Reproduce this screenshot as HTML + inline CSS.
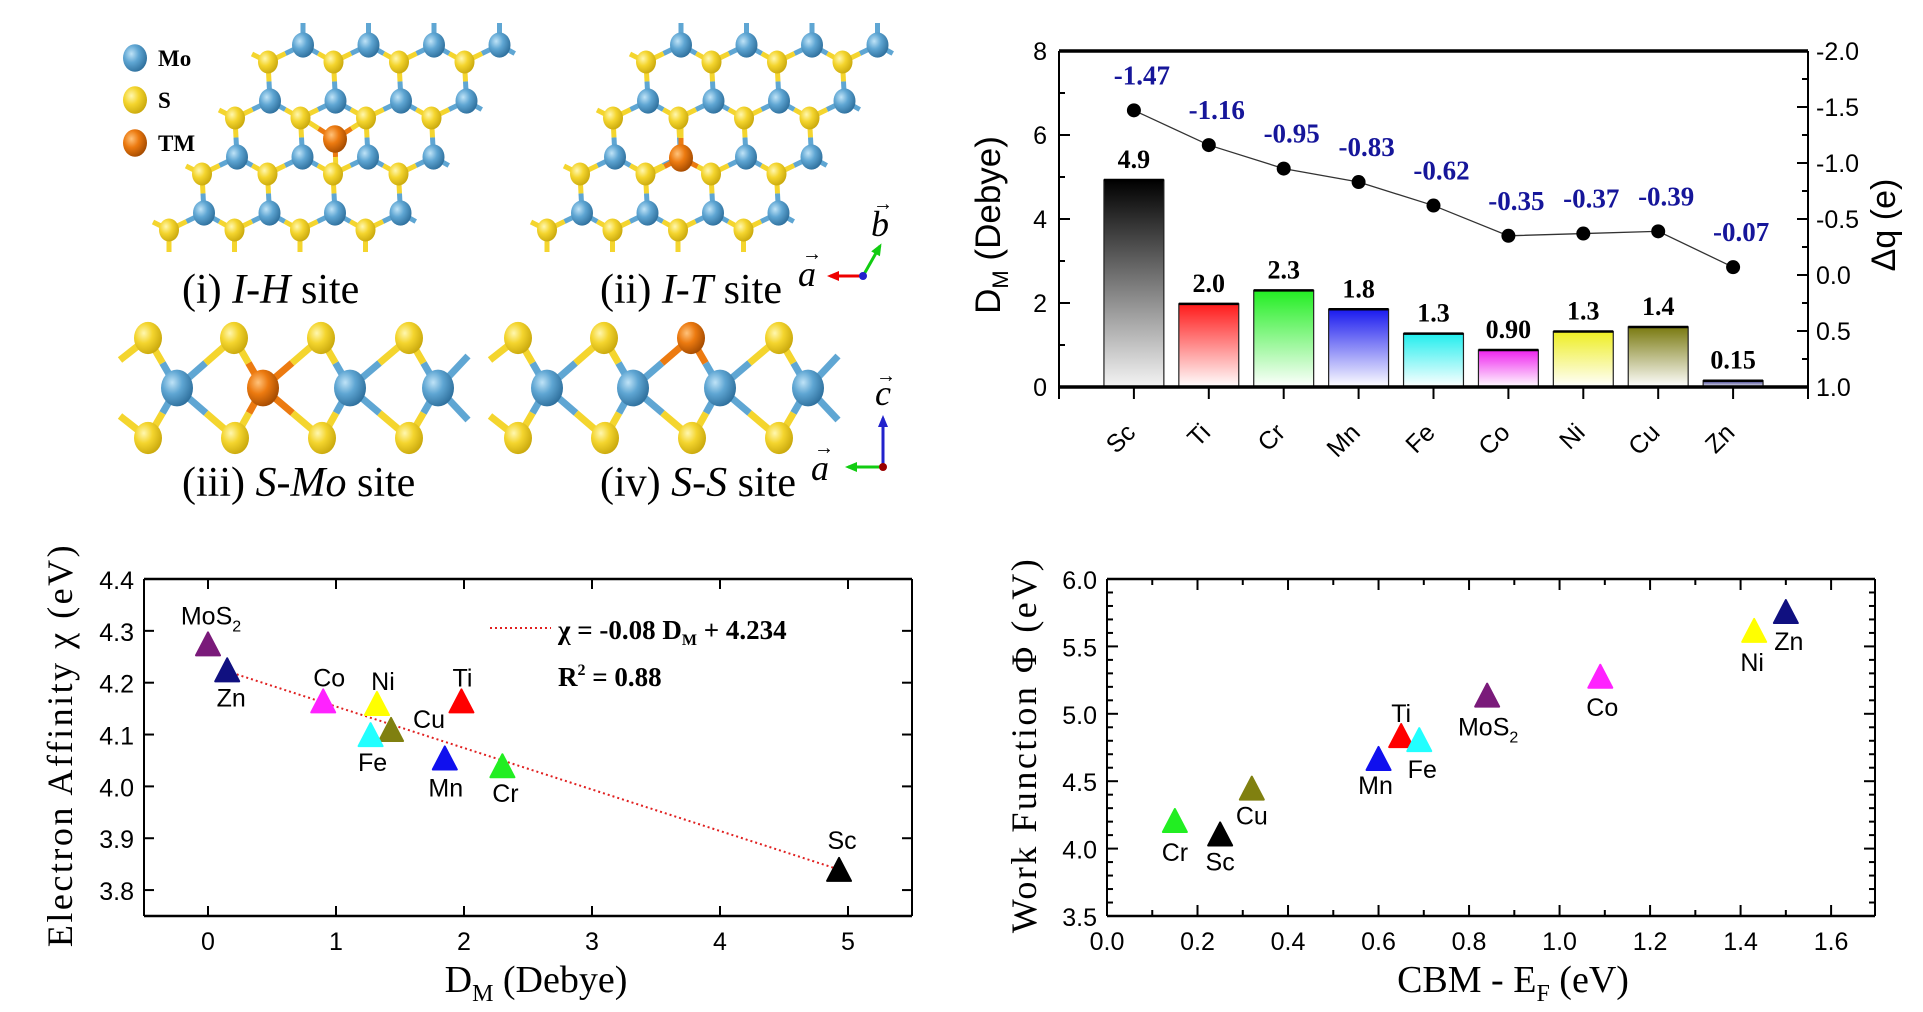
<!DOCTYPE html>
<html><head><meta charset="utf-8"><style>
html,body{margin:0;padding:0;background:#fff;}
svg{display:block;}
.tk{font-family:"Liberation Sans Narrow","Liberation Sans",sans-serif;font-size:25px;fill:#000;}
.tm{font-family:"Liberation Serif",serif;fill:#000;}
</style></head><body>
<svg id="fig" width="1923" height="1012" viewBox="0 0 1923 1012" xmlns="http://www.w3.org/2000/svg">
<defs>
<radialGradient id="gMo" cx="35%" cy="35%" r="70%"><stop offset="0" stop-color="#bfe3f7"/><stop offset="0.45" stop-color="#5fa6d3"/><stop offset="1" stop-color="#2e6f9c"/></radialGradient>
<radialGradient id="gS" cx="35%" cy="35%" r="70%"><stop offset="0" stop-color="#fff7b0"/><stop offset="0.45" stop-color="#f4d52e"/><stop offset="1" stop-color="#c9a80c"/></radialGradient>
<radialGradient id="gTM" cx="35%" cy="35%" r="70%"><stop offset="0" stop-color="#ffc27a"/><stop offset="0.45" stop-color="#ec7a10"/><stop offset="1" stop-color="#a34a00"/></radialGradient>
</defs>
<g id="structures"></g>
<g id="bar"></g>
<g id="ea"></g>
<g id="wf"></g>
</svg>
<script>
// ---------- data ----------
const barCategories = ["Sc","Ti","Cr","Mn","Fe","Co","Ni","Cu","Zn"];
const dipoleValues = [4.93,1.98,2.30,1.85,1.27,0.88,1.32,1.43,0.15];
const dipoleLabels = ["4.9","2.0","2.3","1.8","1.3","0.90","1.3","1.4","0.15"];
const chargeValues = [-1.47,-1.16,-0.95,-0.83,-0.62,-0.35,-0.37,-0.39,-0.07];
const chargeLabels = ["-1.47","-1.16","-0.95","-0.83","-0.62","-0.35","-0.37","-0.39","-0.07"];
const barColors = ["#000000","#ff1a1a","#22ee22","#1a1aee","#22eeee","#ee22ee","#eeee22","#7a7a10","#333388"];
const barLeftTicks = ["0","2","4","6","8"];
const barRightTicks = ["-2.0","-1.5","-1.0","-0.5","0.0","0.5","1.0"];

const eaNames = ["MoS2","Zn","Co","Ni","Ti","Cu","Fe","Mn","Cr","Sc"];
const eaDipole = [0,0.15,0.90,1.32,1.98,1.43,1.27,1.85,2.30,4.93];
const eaChi = [4.27,4.22,4.16,4.155,4.16,4.105,4.095,4.05,4.035,3.835];
const eaColors = ["#7a1a7a","#101080","#ff22ff","#ffff00","#ff0000","#808010","#22ffff","#1010ee","#22ee22","#000000"];
const eaXTicks = ["0","1","2","3","4","5"];
const eaYTicks = ["3.8","3.9","4.0","4.1","4.2","4.3","4.4"];
const fitSlope = -0.08, fitIntercept = 4.234;

const wfNames = ["Cr","Sc","Cu","Mn","Ti","Fe","MoS2","Co","Ni","Zn"];
const wfCbm = [0.15,0.25,0.32,0.60,0.65,0.69,0.84,1.09,1.43,1.50];
const wfPhi = [4.19,4.09,4.43,4.65,4.82,4.79,5.12,5.26,5.60,5.74];
const wfColors = ["#22ee22","#000000","#808010","#1010ee","#ff0000","#22ffff","#7a1a7a","#ff22ff","#ffff00","#101080"];
const wfXTicks = ["0.0","0.2","0.4","0.6","0.8","1.0","1.2","1.4","1.6"];
const wfYTicks = ["3.5","4.0","4.5","5.0","5.5","6.0"];

// ---------- helpers ----------
const NS="http://www.w3.org/2000/svg";
function mk(parent,tag,attrs,text){const e=document.createElementNS(NS,tag);for(const k in attrs)e.setAttribute(k,attrs[k]);if(text!==undefined)e.textContent=text;parent.appendChild(e);return e;}
function line(p,x1,y1,x2,y2,st,w,extra){const a={x1,y1,x2,y2,stroke:st,"stroke-width":w};if(extra)Object.assign(a,extra);return mk(p,"line",a);}

// ---------- structures ----------
const S=document.getElementById("structures");
function atom(cx,cy,r,type,name){const c=mk(S,"ellipse",{cx,cy,rx:r,ry:r*1.15,fill:"url(#g"+type+")"});

}
function bond(x1,y1,x2,y2,c1,c2,w){const mx=(x1+x2)/2,my=(y1+y2)/2;line(S,x1,y1,mx,my,c1,w,{"stroke-linecap":"butt"});line(S,mx,my,x2,y2,c2,w,{"stroke-linecap":"butt"});}
const cMo="#5fa6d3",cS="#f4d52e",cTM="#ec7a10";
function topView(off,tmType){
  const mo=(k,j)=>[303-33*k+65.5*j+off,45+56*k];
  const s=(k,j)=>[268-33*k+65.5*j+off,62+56*k];
  for(let k=0;k<4;k++)for(let j=0;j<4;j++){
    const m=mo(k,j),a=s(k,j),b=s(k,j+1);
    bond(m[0],m[1],a[0],a[1],cMo,cS,5);
    if(j<3)bond(m[0],m[1],b[0],b[1],cMo,cS,5);else bond(m[0],m[1],(m[0]+b[0])/2,(m[1]+b[1])/2,cMo,cMo,5);
    if(k<3){const n=mo(k+1,j);bond(a[0],a[1],n[0],n[1],cS,cMo,5);}else line(S,a[0],a[1],a[0],a[1]+22,cS,5);
    if(k===0)line(S,m[0],m[1],m[0],m[1]-22,cMo,5);
    if(j===0)line(S,a[0],a[1],a[0]-16,a[1]-8,cS,5);
  }
  let tm;
  if(tmType===0){tm=[335+off,139];[[302,118],[368,118],[336,175]].forEach(p=>bond(tm[0],tm[1],p[0]+off,p[1],cTM,cS,5));}
  else{tm=[681+off-378,158];[[681-378,118],[648-378,175],[714-378,175]].forEach(p=>bond(tm[0],tm[1],p[0]+off,p[1],cTM,cS,5));}
  for(let k=0;k<4;k++)for(let j=0;j<4;j++){const m=mo(k,j),a=s(k,j);
    atom(a[0],a[1],10,"S","s-atom");
    if(!(tmType===1&&k===2&&j===1))atom(m[0],m[1],11,"Mo","mo-atom");}
  atom(tm[0],tm[1],12,"TM","tm-atom");
}
topView(0,0);topView(378,1);
function sideView(off,tmPos){
  const st=[148,234,321,409].map(x=>x+off), mo=[177,263,350,438].map(x=>x+off), sb=[148,235,322,409].map(x=>x+off);
  const yT=338,yM=388,yB=438;
  line(S,st[0],yT,st[0]-28,yT+22,cS,7);line(S,sb[0],yB,sb[0]-28,yB-22,cS,7);
  for(let i=0;i<4;i++){
    const mt=(tmPos==="mo"&&i===1)?cTM:cMo;
    const ct=(tmPos==="s"&&i===2)?cTM:cS;
    bond(mo[i],yM,st[i],yT,mt,ct,7);bond(mo[i],yM,sb[i],yB,mt,cS,7);
    if(i<3){const ct2=(tmPos==="s"&&i+1===2)?cTM:cS;bond(mo[i],yM,st[i+1],yT,mt,ct2,7);bond(mo[i],yM,sb[i+1],yB,mt,cS,7);}
    else{line(S,mo[i],yM,mo[i]+30,yM-32,cMo,7);line(S,mo[i],yM,mo[i]+30,yM+32,cMo,7);}
  }
  for(let i=0;i<4;i++){
    atom(st[i],yT,14,(tmPos==="s"&&i===2)?"TM":"S","side-top-atom");
    atom(sb[i],yB,14,"S","side-bottom-atom");
    atom(mo[i],yM,16,(tmPos==="mo"&&i===1)?"TM":"Mo","side-metal-atom");
  }
}
sideView(0,"mo");sideView(370,"s");
// legend
[["Mo",58],["S",100],["TM",143]].forEach(([t,y])=>{atom(135,y,12,t,"legend-"+t.toLowerCase()+"-swatch");
 const tx=mk(S,"text",{x:158,y:y+8,class:"tm","font-size":23,"font-weight":"bold"},t);
 
 });
function caption(x,y,parts,name){const t=mk(S,"text",{x,y,class:"tm","font-size":42});
 
 
 parts.forEach(([s,it])=>mk(t,"tspan",it?{"font-style":"italic"}:{},s));}
caption(182,303,[["(i) ",0],["I-H",1],[" site",0]],"caption-i-h-site");
caption(600,303,[["(ii) ",0],["I-T",1],[" site",0]],"caption-i-t-site");
caption(182,496,[["(iii) ",0],["S-Mo",1],[" site",0]],"caption-s-mo-site");
caption(600,496,[["(iv) ",0],["S-S",1],[" site",0]],"caption-s-s-site");
function arrow(x1,y1,x2,y2,c){line(S,x1,y1,x2,y2,c,3);const a=Math.atan2(y2-y1,x2-x1),L=9,W=5;
 mk(S,"polygon",{points:`${x2+Math.cos(a)*3},${y2+Math.sin(a)*3} ${x2-L*Math.cos(a)+W*Math.sin(a)},${y2-L*Math.sin(a)-W*Math.cos(a)} ${x2-L*Math.cos(a)-W*Math.sin(a)},${y2-L*Math.sin(a)+W*Math.cos(a)}`,fill:c});}
arrow(863,276,830,276,"#e00");arrow(863,276,880,246,"#1c1");mk(S,"circle",{cx:863,cy:276,r:4,fill:"#22c"});
mk(S,"text",{x:798,y:286,class:"tm","font-size":36,"font-style":"italic"},"a");mk(S,"text",{x:802,y:260,class:"tm","font-size":20},"→");
mk(S,"text",{x:871,y:236,class:"tm","font-size":36,"font-style":"italic"},"b");mk(S,"text",{x:873,y:210,class:"tm","font-size":20},"→");
arrow(883,467,883,418,"#22c");arrow(883,467,848,467,"#1c1");mk(S,"circle",{cx:883,cy:467,r:4,fill:"#900"});
mk(S,"text",{x:875,y:405,class:"tm","font-size":36,"font-style":"italic"},"c");mk(S,"text",{x:876,y:382,class:"tm","font-size":20},"→");
mk(S,"text",{x:811,y:480,class:"tm","font-size":36,"font-style":"italic"},"a");mk(S,"text",{x:814,y:454,class:"tm","font-size":20},"→");

// ---------- bar chart ----------
(function(){
 const G=document.getElementById("bar");
 const L=1059,R=1808,T=51,B=387;
 const xs=i=>L+(i+1)/10*(R-L);
 const yL=v=>B-v/8*(B-T);
 const yR=v=>T+(v+2)/3*(B-T);
 const defs=document.querySelector("defs");
 barCategories.forEach((c,i)=>{
  const g=mk(defs,"linearGradient",{id:"bg"+i,x1:0,y1:0,x2:0,y2:1});
  mk(g,"stop",{offset:0,"stop-color":barColors[i]});mk(g,"stop",{offset:1,"stop-color":i===0?"#f4f4f4":"#ffffff","stop-opacity":1});
  const w=0.8/10*(R-L),x=xs(i)-w/2,y=yL(dipoleValues[i]);
  const r=mk(G,"rect",{x,y,width:w,height:B-y,fill:`url(#bg${i})`,stroke:"#222","stroke-width":1.2});
  
  
  line(G,x,y,x+w,y,"#000",2.5);
  const t=mk(G,"text",{x:xs(i),y:y-12,"text-anchor":"middle",class:"tm","font-size":26,"font-weight":"bold"},dipoleLabels[i]);
  
  
  const tk=mk(G,"text",{x:xs(i)+3,y:434,"text-anchor":"end",class:"tk","font-size":24,transform:`rotate(-45 ${xs(i)+3} 434)`},c);
  
  
  line(G,xs(i),B,xs(i),B+12,"#000",2);
 });
 line(G,L,B,L,B+12,"#000",2);line(G,R,B,R,B+12,"#000",2);
 let d="";chargeValues.forEach((v,i)=>{d+=(i?"L":"M")+xs(i)+","+yR(v);});
 const pl=mk(G,"path",{d,fill:"none",stroke:"#333","stroke-width":1.3});
 
 
 chargeValues.forEach((v,i)=>{
  const c=mk(G,"circle",{cx:xs(i),cy:yR(v),r:7,fill:"#000"});
  
  
  const t=mk(G,"text",{x:xs(i)+8,y:yR(v)-26,"text-anchor":"middle",class:"tm","font-size":27,"font-weight":"bold",style:"fill:#16169a"},chargeLabels[i]);
  
  
 });
 line(G,L,T,R,T,"#000",3.5);line(G,L,B,R,B,"#000",3.5);line(G,L,T,L,B,"#000",2);line(G,R,T,R,B,"#000",2);
 for(let v=0;v<=8;v++){const y=yL(v);line(G,L,y,L+(v%2?6:11),y,"#000",2);}
 barLeftTicks.forEach(s=>{const t=mk(G,"text",{x:L-12,y:yL(+s)+9,"text-anchor":"end",class:"tk","font-size":26},s);
  });
 for(let k=0;k<=12;k++){const v=-2+k*0.25,y=yR(v);line(G,R,y,R-(k%2?6:11),y,"#000",2);}
 barRightTicks.forEach(s=>{const t=mk(G,"text",{x:R+8,y:yR(+s)+9,class:"tk","font-size":26},s);
  });
 const yt=mk(G,"text",{x:0,y:0,"text-anchor":"middle",transform:"translate(1000 225) rotate(-90)",style:"font-family:'Liberation Sans',sans-serif;font-size:35px"});
 
 mk(yt,"tspan",{},"D");mk(yt,"tspan",{"font-size":22,dy:8},"M");mk(yt,"tspan",{dy:-8},"  (Debye)");
 const yt2=mk(G,"text",{x:0,y:0,"text-anchor":"middle",transform:"translate(1895 225) rotate(-90)",style:"font-family:'Liberation Sans','DejaVu Sans',sans-serif;font-size:34px"},"Δq (e)");
 
})();

function tri(G,cx,cy,col,name){const p=mk(G,"path",{d:`M${cx},${cy-14} L${cx+12},${cy+9} L${cx-12},${cy+9} Z`,fill:col,stroke:col,"stroke-width":2,"stroke-linejoin":"round"});
 }
function ptLabel(G,x,y,s){const t=mk(G,"text",{x,y:y+9,"text-anchor":"middle",class:"tk","font-size":25});
 
 if(s==="MoS2"){mk(t,"tspan",{},"MoS");mk(t,"tspan",{"font-size":16,dy:7},"2");}else t.textContent=s;}

// ---------- electron affinity ----------
(function(){
 const G=document.getElementById("ea");
 const L=144,R=912,T=579,B=916,x0=-0.5,x1=5.5,y0=3.75,y1=4.4;
 const X=v=>L+(v-x0)/(x1-x0)*(R-L), Y=v=>B-(v-y0)/(y1-y0)*(B-T);
 const off={MoS2:[3,-31],Zn:[4,25],Co:[6,-26],Ni:[6,-25],Ti:[1,-26],Cu:[38,-13],Fe:[2,25],Mn:[1,27],Cr:[3,25],Sc:[3,-32]};
 const xa=0.15,xb=4.93;
 const fl=mk(G,"line",{x1:X(xa),y1:Y(fitSlope*xa+fitIntercept),x2:X(xb),y2:Y(fitSlope*xb+fitIntercept),stroke:"#e02020","stroke-width":2,"stroke-dasharray":"2 3"});
 
 eaNames.forEach((n,i)=>{const x=X(eaDipole[i]),y=Y(eaChi[i]);tri(G,x,y,eaColors[i],'marker-'+n.toLowerCase());ptLabel(G,x+off[n][0],y+off[n][1],n);});
 line(G,L,T,R,T,"#000",2.5);line(G,L,B,R,B,"#000",2.5);line(G,L,T,L,B,"#000",2);line(G,R,T,R,B,"#000",2);
 eaXTicks.forEach(s=>{const x=X(+s);line(G,x,B,x,B-10,"#000",2);line(G,x,T,x,T+10,"#000",2);
  const t=mk(G,"text",{x,y:950,"text-anchor":"middle",class:"tk","font-size":27},s);});
 eaYTicks.forEach(s=>{const y=Y(+s);line(G,L,y,L+10,y,"#000",2);line(G,R,y,R-10,y,"#000",2);
  const t=mk(G,"text",{x:134,y:y+10,"text-anchor":"end",class:"tk","font-size":27},s);});
 const lg=mk(G,"line",{x1:490,y1:628,x2:551,y2:628,stroke:"#e02020","stroke-width":2,"stroke-dasharray":"2 3"});
 
 const eq=mk(G,"text",{x:558,y:639,class:"tm","font-size":27,"font-weight":"bold"});
 
 mk(eq,"tspan",{},"χ = -0.08 D");mk(eq,"tspan",{"font-size":16,dy:6},"M");mk(eq,"tspan",{dy:-6}," + 4.234");
 const r2=mk(G,"text",{x:558,y:686,class:"tm","font-size":27,"font-weight":"bold"});
 
 mk(r2,"tspan",{},"R");mk(r2,"tspan",{"font-size":16,dy:-11},"2");mk(r2,"tspan",{dy:11}," = 0.88");
 const xt=mk(G,"text",{x:536,y:992,"text-anchor":"middle",class:"tm","font-size":38});
 
 mk(xt,"tspan",{},"D");mk(xt,"tspan",{"font-size":24,dy:9},"M");mk(xt,"tspan",{dy:-9}," (Debye)");
 const yt=mk(G,"text",{x:0,y:0,"text-anchor":"middle",transform:"translate(72 745) rotate(-90)",class:"tm","font-size":36,"letter-spacing":"2.5"},"Electron Affinity χ (eV)");
 
})();

// ---------- work function ----------
(function(){
 const G=document.getElementById("wf");
 const L=1107,R=1875,T=579,B=916,x0=0,x1=1.697,y0=3.5,y1=6.0;
 const X=v=>L+(v-x0)/(x1-x0)*(R-L), Y=v=>B-(v-y0)/(y1-y0)*(B-T);
 const off={Cr:[0,29],Sc:[0,25],Cu:[0,25],Mn:[-3,24],Ti:[0,-25],Fe:[3,27],MoS2:[1,29],Co:[2,28],Ni:[-2,29],Zn:[3,27]};
 wfNames.forEach((n,i)=>{const x=X(wfCbm[i]),y=Y(wfPhi[i]);tri(G,x,y,wfColors[i],'marker-'+n.toLowerCase());ptLabel(G,x+off[n][0],y+off[n][1],n);});
 line(G,L,T,R,T,"#000",2.5);line(G,L,B,R,B,"#000",2.5);line(G,L,T,L,B,"#000",2);line(G,R,T,R,B,"#000",2);
 for(let k=0;k<=16;k++){const x=X(k*0.1),len=k%2?6:11;line(G,x,B,x,B-len,"#000",2);line(G,x,T,x,T+len,"#000",2);}
 for(let k=0;k<=25;k++){const y=Y(3.5+k*0.1),len=k%5?6:11;line(G,L,y,L+len,y,"#000",2);line(G,R,y,R-len,y,"#000",2);}
 wfXTicks.forEach(s=>{const t=mk(G,"text",{x:X(+s),y:950,"text-anchor":"middle",class:"tk","font-size":27},s);});
 wfYTicks.forEach(s=>{const t=mk(G,"text",{x:1097,y:Y(+s)+10,"text-anchor":"end",class:"tk","font-size":27},s);});
 const xt=mk(G,"text",{x:1513,y:992,"text-anchor":"middle",class:"tm","font-size":38});
 
 mk(xt,"tspan",{},"CBM - E");mk(xt,"tspan",{"font-size":24,dy:9},"F");mk(xt,"tspan",{dy:-9}," (eV)");
 const yt=mk(G,"text",{x:0,y:0,"text-anchor":"middle",transform:"translate(1036 745) rotate(-90)",class:"tm","font-size":36,"letter-spacing":"2.5"},"Work Function Φ (eV)");
 
})();
</script>
</body></html>
